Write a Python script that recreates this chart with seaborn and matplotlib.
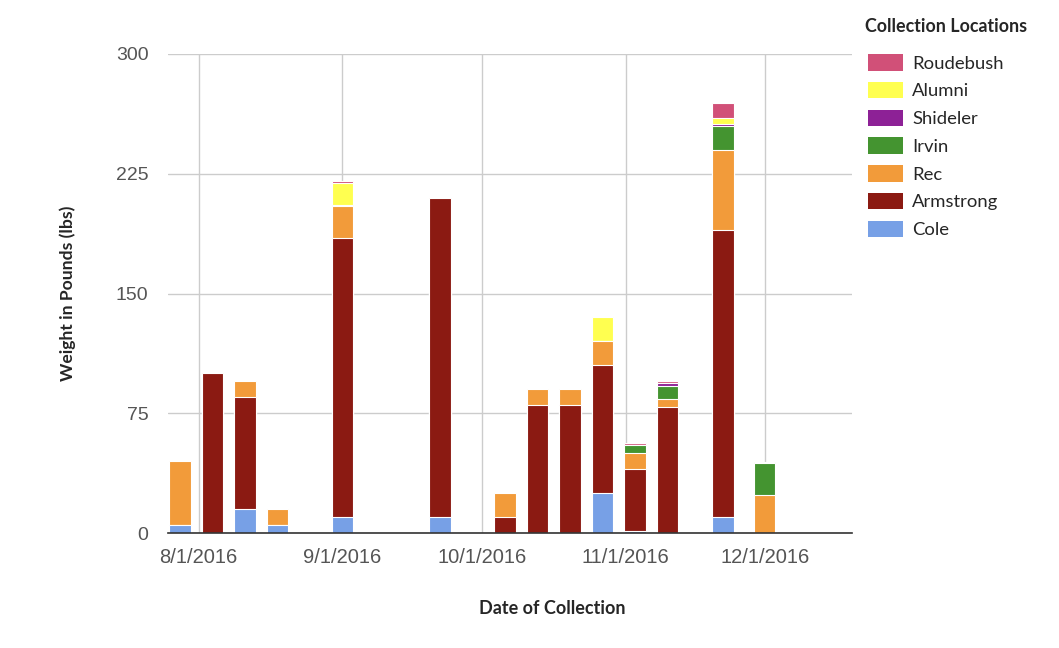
import numpy as np
import pandas as pd
import matplotlib
matplotlib.use("Agg")
import matplotlib.pyplot as plt
import matplotlib.dates as mdates
from matplotlib.patches import Patch
import seaborn as sns

# ---- data ----
dates = ["2016-07-28", "2016-08-04", "2016-08-11", "2016-08-18", "2016-09-01",
         "2016-09-22", "2016-10-06", "2016-10-13", "2016-10-20", "2016-10-27",
         "2016-11-03", "2016-11-10", "2016-11-22", "2016-12-01"]
cole       = [5, 0, 15, 5, 10, 10, 0, 0, 0, 25, 1, 0, 10, 0]
armstrong  = [0, 100, 70, 0, 175, 200, 10, 80, 80, 80, 39, 79, 180, 0]
rec        = [40, 0, 10, 10, 20, 0, 15, 10, 10, 15, 10, 5, 50, 24]
irvin      = [0, 0, 0, 0, 0, 0, 0, 0, 0, 0, 5, 8, 15, 20]
shideler   = [0, 0, 0, 0, 0.5, 0, 0, 0, 0, 0, 0, 2, 1, 0]
alumni     = [0, 0, 0, 0, 14, 0, 0, 0, 0, 15, 0, 0, 4, 0]
roudebush  = [0, 0, 0, 0, 1, 0, 0, 0, 0, 0, 1.5, 1, 9, 0.5]

series_names = ["Cole", "Armstrong", "Rec", "Irvin", "Shideler", "Alumni", "Roudebush"]
series_vals = [cole, armstrong, rec, irvin, shideler, alumni, roudebush]
colors = {"Cole": "#77a0e6", "Armstrong": "#8b1a12", "Rec": "#f29b3a",
          "Irvin": "#449430", "Shideler": "#8d2196", "Alumni": "#ffff50",
          "Roudebush": "#d15078"}
y_ticks = [0, 75, 150, 225, 300]
x_tick_dates = ["2016-08-01", "2016-09-01", "2016-10-01", "2016-11-01", "2016-12-01"]

# ---- build table ----
xnum = mdates.date2num(pd.to_datetime(dates))
df = pd.DataFrame({"x": xnum})
for n, v in zip(series_names, series_vals):
    df[n] = v
cum = df[series_names].cumsum(axis=1)

sns.set_theme(style="white")
plt.rcParams["font.family"] = ["Lato", "DejaVu Sans"]

fig = plt.figure(figsize=(10.59, 6.48), dpi=100)
ax = fig.add_axes([168/1059, 1-533/648, (852-168)/1059, (533-54)/648])

# draw cumulative bars from top series down so that stacks appear
for n in reversed(series_names):
    d = pd.DataFrame({"x": df["x"], "y": cum[n]})
    sns.barplot(data=d, x="x", y="y", native_scale=True, color=colors[n],
                saturation=1, width=0.66, errorbar=None, ax=ax,
                edgecolor="white", linewidth=0.8)

ax.set_xlim(mdates.date2num(pd.Timestamp("2016-07-25")) + 0.4,
            mdates.date2num(pd.Timestamp("2016-12-19")) + 0.8)
ax.set_ylim(0, 300)
ax.set_yticks(y_ticks)
ax.set_yticklabels([str(t) for t in y_ticks], family="Liberation Sans",
                   fontsize=14, color="#555555")
xt = mdates.date2num(pd.to_datetime(x_tick_dates))
ax.set_xticks(xt)
ax.set_xticklabels([f"{d.month}/{d.day}/{d.year}" for d in pd.to_datetime(x_tick_dates)],
                   family="Liberation Sans", fontsize=14.5, color="#555555")
ax.tick_params(axis="x", length=0, pad=11)
ax.tick_params(axis="y", length=0, pad=14)

ax.grid(True, color="#cccccc", linewidth=1)
ax.set_axisbelow(True)
for s in ["top", "right", "left"]:
    ax.spines[s].set_visible(False)
ax.spines["bottom"].set_color("#333333")
ax.spines["bottom"].set_linewidth(1.2)

ax.set_xlabel("Date of Collection", fontsize=13, fontweight="bold")
ax.xaxis.set_label_coords((552-168)/684, -(609-533)/479, transform=ax.transAxes)
ax.xaxis.label.set_va("center")
ax.set_ylabel("Weight in Pounds (lbs)", fontsize=12.6, fontweight="bold")
ax.yaxis.set_label_coords(-(168-68)/684, 0.5, transform=ax.transAxes)
ax.yaxis.label.set_va("center")

fig.text(865/1059, 1-27/648, "Collection Locations", fontsize=12.9,
         fontweight="bold", ha="left", va="center")
handles = [Patch(facecolor=colors[n], edgecolor="none", label=n) for n in reversed(series_names)]
leg = fig.legend(handles=handles, loc="upper left",
                 bbox_to_anchor=(868/1059, 1-54/648),
                 frameon=False, fontsize=13.3,
                 handlelength=1.9, handleheight=1.0, labelspacing=0.55,
                 handletextpad=0.5, borderaxespad=0, borderpad=0)

fig.savefig("out.png", dpi=100)
